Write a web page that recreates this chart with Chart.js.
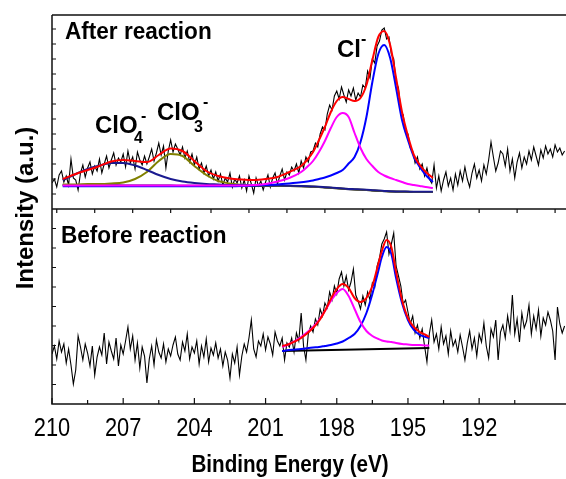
<!DOCTYPE html>
<html>
<head>
<meta charset="utf-8">
<script src="https://cdn.jsdelivr.net/npm/chart.js@4.4.1/dist/chart.umd.min.js"></script>
<style>
  html,body{margin:0;padding:0;background:#fff;}
  canvas{display:block;}
</style>
</head>
<body>
<canvas id="xps" width="566" height="479"></canvas>
<script>
// spectra sampled every 0.1 eV starting at 210.0 eV (going down)
const SPEC_START = 210.0;
const SPEC_STEP = 0.1;
const PANEL_OFFSET = 195; // "after" spectrum is stacked above "before"

const afterCounts = [
  26,30,22,34,38,27,33,24,50,31,
  29,19,36,44,32,41,47,35,43,38,
  50,36,45,53,41,49,56,44,51,47,
  55,42,58,46,52,40,57,49,44,53,
  45,52,60,48,56,66,54,63,41,58,
  69,57,65,60,54,62,51,58,47,55,
  44,52,40,46,36,43,33,39,30,37,
  28,35,24,31,27,36,22,30,26,33,
  21,29,18,33,25,16,31,23,28,19,
  27,34,22,31,36,25,33,40,29,37,
  34,42,38,45,36,48,41,52,47,57,
  58,66,62,75,82,79,95,104,99,113,
  118,110,122,114,107,119,113,121,109,116,
  112,124,121,138,131,150,146,163,168,179,
  181,170,172,155,150,127,121,98,94,76,
  75,61,58,46,52,40,45,33,41,30,
  26,44,21,33,18,29,37,23,31,19,
  35,24,38,28,42,30,22,36,45,31,
  39,28,44,35,49,67,52,38,46,58,
  55,43,60,38,50,31,47,56,41,52,
  45,58,49,62,53,44,59,51,63,55,
  60,52,64,57,61,54,58
];

const beforeCounts = [
  50,58,45,63,52,60,41,55,39,20,
  34,68,57,44,60,51,38,58,29,47,
  57,49,71,40,62,53,45,66,38,59,
  50,63,77,55,68,44,61,36,57,48,
  21,45,58,39,64,52,46,60,42,55,
  48,59,67,50,44,62,53,70,45,57,
  51,63,40,58,47,65,42,56,49,61,
  46,55,38,52,44,26,50,41,57,29,
  48,60,52,66,84,55,47,63,58,70,
  54,67,60,49,72,63,58,66,44,61,
  57,66,52,71,63,91,58,44,70,78,
  72,85,79,95,88,101,96,112,104,118,
  110,125,132,118,128,114,122,135,109,103,
  95,108,99,112,104,121,117,138,146,160,
  165,172,150,160,171,138,128,118,100,104,
  92,80,88,71,79,66,75,58,42,70,
  84,62,70,55,77,60,68,50,73,58,
  64,52,69,57,44,61,73,55,66,48,
  70,62,81,58,46,75,67,84,44,72,
  79,66,88,73,109,70,85,62,91,76,
  83,99,70,88,75,94,68,86,79,92,
  84,73,44,97,80,71,78
];

// fitted components, after reaction
const afterFitE = [209.55,209.0,208.5,208.0,207.5,207.0,206.5,206.0,205.5,205.0,
  204.5,204.0,203.5,203.0,202.5,202.0,201.5,201.0,200.5,200.0,
  199.5,199.25,199.0,198.75,198.5,198.25,198.0,197.75,197.5,197.25,
  197.0,196.75,196.5,196.25,196.0,195.75,195.5,195.25,195.0,194.75,
  194.5,194.25,193.95];
const afterBase = [24,24,23.9,23.8,23.7,23.6,23.5,23.5,23.4,23.4,
  23.3,23.3,23.2,23.2,23.1,23.1,23.0,23.0,23.0,22.9,
  22.7,22.5,22.2,21.9,21.5,21.1,20.7,20.2,19.8,19.5,
  19.2,18.9,18.5,18.1,17.8,17.5,17.3,17.2,17.1,17.0,
  17.0,17.0,17.0];
const afterClO4 = [29,35,40,43.5,46,46,43.5,39,34,30,
  27.5,26,25,24.5,24,24,23.5,23.5,23.5,23.3,
  23.0,22.8,22.5,22.2,21.8,21.4,21.0,20.5,20.1,19.8,
  19.5,19.2,18.8,18.4,18.1,17.8,17.6,17.5,17.4,17.3,
  17.3,17.2,17.2];
const afterClO3 = [24.5,24.5,25,25,25.5,26.5,30,37,48,55,
  53,43,34,28,25.5,24,23.5,23.2,23.1,23.0,
  22.8,22.6,22.3,22.0,21.6,21.2,20.8,20.3,19.9,19.6,
  19.3,19.0,18.6,18.2,17.9,17.6,17.4,17.3,17.2,17.1,
  17.1,17.1,17.1];
const afterClLow = [23.5,23.5,23.5,23.5,23.5,23.5,23.5,23.5,23.5,23.5,
  23.5,23.5,23.5,23.5,23.5,23.5,24,25,27.5,31,
  37,42,48,57,68,81,92,96,92,76,
  61,50,43,37,33.5,31,29,27,25,24,
  23,22,21];
const afterClMain = [22.8,22.8,22.8,22.8,22.8,22.8,22.8,22.8,22.8,22.8,
  22.8,22.8,22.8,22.8,22.8,23,23.5,24,24.6,25.6,
  26.8,27.6,28.5,30,31.5,33.5,36,39,45.5,52,
  67,92,127,155,164,151,121,89,69,52,
  42,34,27];
const afterEnvelope = [30,35,39,43,47.5,49,48,47,54,60.5,
  58,48,38,33,30.5,29.5,29,30,32,37,
  43,49,57,69,82,97,108,112,110,108,
  111,124,149,172,178,164,131,97,73,54,
  44,37,31];

// fitted components, before reaction
const beforeFitE = [200.3,200.0,199.5,199.0,198.75,198.5,198.25,198.0,197.75,197.5,
  197.25,197.0,196.75,196.5,196.25,196.1,195.9,195.7,195.5,195.25,
  195.0,194.75,194.5,194.25,194.1];
const beforeBaseE = [200.3,194.1];
const beforeBase = [53,56];
const beforeClLow = [57,60,67,77,84,93,103,111,115,108,
  95,82,73,68,65,63.5,62.5,62,61,60,
  59.5,59,59,58.5,58.5];
const beforeClMain = [53,54,55,56.5,57,58,59,60.5,62.5,66,
  70,78,91,110,133,147,157,150,126,101,
  84,74,69,67,66];
const beforeEnvelope = [58,60,66,76,83,93,105,115,120,116,
  106,102,106,118,140,153,164,157,132,104,
  86,77,72,69,67];

// axis ticks
const xTickLabels = [210,207,204,201,198,195,192];
const xMinorTicks = [208.5,205.5,202.5,199.5,196.5,193.5,190.5];
const midTicks = [209.8,208.2,206.6,205.0,203.3,201.7,200.1,198.5,196.9,195.2,193.6,192.0,190.4,188.8];
const yTicksAfter = [210,225,240,255,270,285,300,315,330,345,360,375];
const yTicksBefore = [19.5,39,58.5,78,97.5,117,136.5,156,175.5];

const X_MIN = 188.34, X_MAX = 210;
const Y_MAX = 389;
const FONT = '"Liberation Sans", Arial, sans-serif';

function spectrum(values, offset){
  return values.map((v,i)=>({x: +(SPEC_START - i*SPEC_STEP).toFixed(2), y: v + offset}));
}
function curve(es, vs, offset){
  return es.map((e,i)=>({x:e, y:vs[i] + offset}));
}

function fitLine(data, color, order){
  return {data, borderColor: color, borderWidth: 2, pointRadius: 0,
    cubicInterpolationMode: 'monotone', fill: false, order};
}

const datasets = [
  {data: spectrum(afterCounts, PANEL_OFFSET), borderColor:'#000', borderWidth:1.1, pointRadius:0, tension:0, order:20},
  {data: spectrum(beforeCounts, 0), borderColor:'#000', borderWidth:1.1, pointRadius:0, tension:0, order:20},
  fitLine(curve(afterFitE, afterBase, PANEL_OFFSET), '#101050', 9),
  fitLine(curve(afterFitE, afterClO3, PANEL_OFFSET), '#808000', 8),
  fitLine(curve(afterFitE, afterClO4, PANEL_OFFSET), '#1a1a90', 7),
  fitLine(curve(afterFitE, afterClMain, PANEL_OFFSET), '#0000ff', 6),
  fitLine(curve(afterFitE, afterClLow, PANEL_OFFSET), '#ff00ff', 5),
  fitLine(curve(afterFitE, afterEnvelope, PANEL_OFFSET), '#ff0000', 1),
  fitLine(curve(beforeBaseE, beforeBase, 0), '#000000', 9),
  fitLine(curve(beforeFitE, beforeClMain, 0), '#0000ff', 6),
  fitLine(curve(beforeFitE, beforeClLow, 0), '#ff00ff', 5),
  fitLine(curve(beforeFitE, beforeEnvelope, 0), '#ff0000', 1)
];

function drawText(ctx, str, x, y, size, bold, sx, align, rot){
  ctx.save();
  ctx.translate(x, y);
  if(rot) ctx.rotate(rot);
  ctx.scale(sx, 1);
  ctx.font = (bold ? 'bold ' : '') + size + 'px ' + FONT;
  ctx.textAlign = align;
  ctx.textBaseline = 'alphabetic';
  ctx.fillStyle = '#000';
  ctx.fillText(str, 0, 0);
  ctx.restore();
}

const framePlugin = {
  id: 'frame',
  beforeDraw(chart){
    const ctx = chart.ctx;
    ctx.save();
    ctx.fillStyle = '#fff';
    ctx.fillRect(0, 0, chart.width, chart.height);
    ctx.restore();
  },
  afterDatasetsDraw(chart){
    const {ctx, chartArea:a, scales:{x, y}} = chart;
    const mid = y.getPixelForValue(PANEL_OFFSET);
    ctx.save();
    ctx.strokeStyle = '#111';
    ctx.lineWidth = 1.5;
    ctx.beginPath();
    ctx.moveTo(a.left, a.top); ctx.lineTo(a.right, a.top);
    ctx.moveTo(a.left, mid); ctx.lineTo(a.right, mid);
    ctx.moveTo(a.left, a.top); ctx.lineTo(a.left, a.bottom); ctx.lineTo(a.right, a.bottom);
    ctx.stroke();

    ctx.lineWidth = 1.2;
    ctx.beginPath();
    xTickLabels.forEach(t=>{ const px = x.getPixelForValue(t); ctx.moveTo(px, a.bottom); ctx.lineTo(px, a.bottom-6); });
    xMinorTicks.forEach(t=>{ const px = x.getPixelForValue(t); ctx.moveTo(px, a.bottom); ctx.lineTo(px, a.bottom-4); });
    midTicks.forEach(t=>{ const px = x.getPixelForValue(t); ctx.moveTo(px, mid); ctx.lineTo(px, mid+4); });
    yTicksAfter.concat(yTicksBefore).forEach(t=>{ const py = y.getPixelForValue(t); ctx.moveTo(a.left, py); ctx.lineTo(a.left+4, py); });
    ctx.stroke();
    ctx.restore();

    // tick labels and titles
    xTickLabels.forEach(t=>drawText(ctx, String(t), x.getPixelForValue(t), a.bottom+32, 26, false, 0.84, 'center'));
    drawText(ctx, 'Binding Energy (eV)', 290, a.bottom+68, 24, true, 0.86, 'center');
    drawText(ctx, 'Intensity (a.u.)', 33, 208, 24, true, 1, 'center', -Math.PI/2);

    drawText(ctx, 'After reaction', 65, 39, 24, true, 0.94, 'left');
    drawText(ctx, 'Before reaction', 61, 243, 24, true, 0.94, 'left');

    // peak labels
    drawText(ctx, 'ClO', 95, 133, 24, true, 1, 'left');
    drawText(ctx, '4', 134, 143, 16, true, 1, 'left');
    drawText(ctx, '-', 141, 121, 16, true, 1, 'left');
    drawText(ctx, 'ClO', 157, 120, 24, true, 1, 'left');
    drawText(ctx, '3', 194, 132, 16, true, 1, 'left');
    drawText(ctx, '-', 203, 107, 16, true, 1, 'left');
    drawText(ctx, 'Cl', 337, 57, 24, true, 1, 'left');
    drawText(ctx, '-', 361, 44, 16, true, 1, 'left');
  }
};

new Chart(document.getElementById('xps'), {
  type: 'line',
  data: { datasets },
  options: {
    responsive: false,
    animation: false,
    layout: { padding: { left: 52, right: 0, top: 15, bottom: 75 } },
    plugins: { legend: { display: false }, tooltip: { enabled: false } },
    scales: {
      x: { type: 'linear', min: X_MIN, max: X_MAX, reverse: true, display: false },
      y: { type: 'linear', min: 0, max: Y_MAX, display: false }
    }
  },
  plugins: [framePlugin]
});
</script>
</body>
</html>
